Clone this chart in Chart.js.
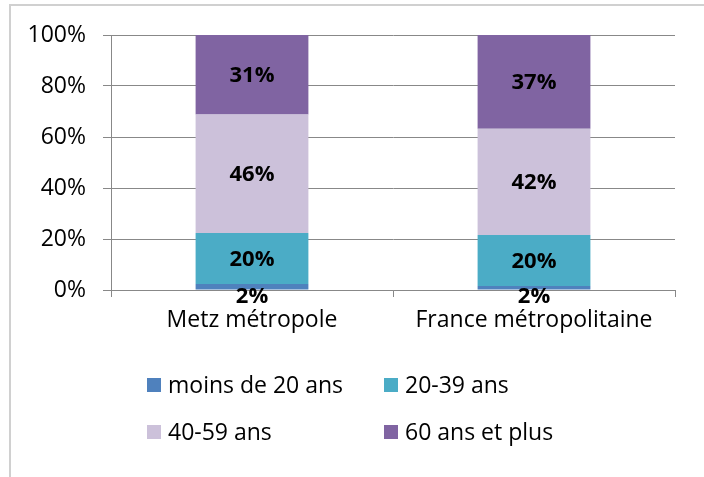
<!DOCTYPE html>
<html><head><meta charset="utf-8">
<script src="https://cdn.jsdelivr.net/npm/chart.js@4"></script>
<style>html,body{margin:0;padding:0;background:#fff}canvas{display:block}</style>
</head><body>
<canvas id="c" width="704" height="477"></canvas>
<script>
const categories = ['Metz métropole', 'France métropolitaine'];
const seriesNames = ['moins de 20 ans', '20-39 ans', '40-59 ans', '60 ans et plus'];
const moins20 = [2.4, 1.6];
const ans20_39 = [20.0, 20.0];
const ans40_59 = [46.4, 41.6];
const ans60plus = [31.2, 36.8];
const yTickValues = [0, 20, 40, 60, 80, 100];
const seriesColors = ['#4F81BD', '#4BACC6', '#CCC1DA', '#8064A2'];

const FONT = '"Open Sans", "Noto Sans", sans-serif';
const seriesValues = [moins20, ans20_39, ans40_59, ans60plus];

const framePlugin = {
  id: 'frame',
  beforeDraw(chart) {
    const ctx = chart.ctx;
    ctx.save();
    ctx.fillStyle = '#fff';
    ctx.fillRect(0, 0, chart.width, chart.height);
    ctx.strokeStyle = '#d0d0d0';
    ctx.lineWidth = 2;
    ctx.beginPath();
    ctx.moveTo(10, chart.height);
    ctx.lineTo(10, 5);
    ctx.lineTo(chart.width, 5);
    ctx.stroke();
    ctx.restore();
  }
};

const labelPlugin = {
  id: 'segLabels',
  afterDatasetsDraw(chart) {
    const ctx = chart.ctx;
    ctx.save();
    ctx.font = 'bold 22px ' + FONT;
    ctx.fillStyle = '#000';
    ctx.textAlign = 'center';
    ctx.textBaseline = 'middle';
    chart.data.datasets.forEach((ds, di) => {
      const meta = chart.getDatasetMeta(di);
      meta.data.forEach((el, i) => {
        const v = ds.data[i];
        const h = Math.abs(el.base - el.y);
        let y = (el.y + el.base) / 2 + 1;
        if (h < 18) y = el.base + 7;
        ctx.fillText(Math.round(v) + '%', el.x, y);
      });
    });
    ctx.restore();
  }
};

const legendPlugin = {
  id: 'gridLegend',
  afterDraw(chart) {
    const ctx = chart.ctx;
    const colX = [147, 384];
    const rowY = [385, 432];
    ctx.save();
    ctx.font = '23px ' + FONT;
    ctx.textBaseline = 'middle';
    ctx.textAlign = 'left';
    chart.data.datasets.forEach((ds, i) => {
      const x = colX[i % 2];
      const y = rowY[Math.floor(i / 2)];
      ctx.fillStyle = ds.backgroundColor;
      ctx.fillRect(x, y - 7, 14, 14);
      ctx.fillStyle = '#000';
      ctx.fillText(ds.label, x + 21, y + 1);
    });
    ctx.restore();
  }
};

new Chart(document.getElementById('c'), {
  type: 'bar',
  data: {
    labels: categories,
    datasets: seriesNames.map((n, i) => ({
      label: n,
      data: seriesValues[i],
      backgroundColor: seriesColors[i],
      borderWidth: 0,
      barPercentage: 0.4,
      categoryPercentage: 1.0
    }))
  },
  options: {
    responsive: false,
    animation: false,
    devicePixelRatio: 1,
    layout: { padding: { left: 0, top: 35, right: 29, bottom: 120 } },
    plugins: { legend: { display: false }, tooltip: { enabled: false }, title: { display: false } },
    scales: {
      x: {
        stacked: true,
        grid: { display: true, offset: true, drawOnChartArea: false, tickLength: 7, color: '#888', lineWidth: 1 },
        border: { display: true, color: '#888', width: 1 },
        ticks: { color: '#000', font: { family: FONT, size: 23 }, padding: 10, maxRotation: 0 },
        afterFit(s) { s.height = 477 - 120 - 290; }
      },
      y: {
        stacked: true,
        min: 0, max: 100,
        afterBuildTicks(s) { s.ticks = yTickValues.map(v => ({ value: v })); },
        grid: { color: '#888', lineWidth: 1, tickLength: 8 },
        border: { display: true, color: '#888', width: 1 },
        ticks: { color: '#000', font: { family: FONT, size: 23 }, padding: 17, callback: v => v + '%' },
        afterFit(s) { s.width = 111; }
      }
    }
  },
  plugins: [framePlugin, labelPlugin, legendPlugin]
});
</script>
</body></html>
